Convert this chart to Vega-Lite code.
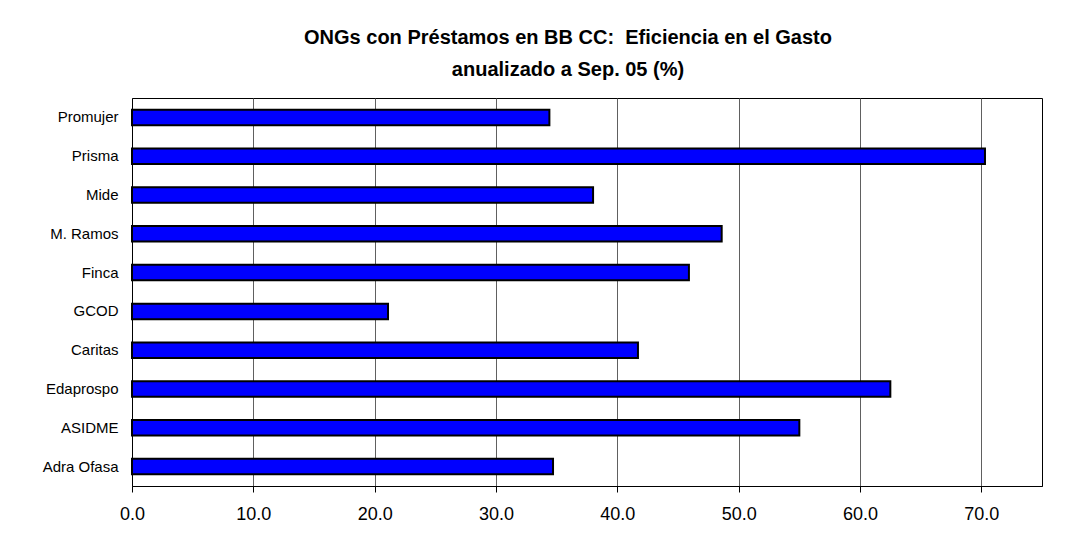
{
  "$schema": "https://vega.github.io/schema/vega-lite/v6.json",
  "autosize": "none",
  "width": 910,
  "height": 388,
  "padding": {"left": 132, "top": 98, "right": 36, "bottom": 53},
  "background": "white",
  "title": {
    "text": ["ONGs con Préstamos en BB CC:\u00a0 Eficiencia en el Gasto", "anualizado a Sep. 05 (%)"],
    "font": "Liberation Sans",
    "fontSize": 20,
    "fontWeight": "bold",
    "color": "black",
    "lineHeight": 32,
    "anchor": "middle",
    "frame": "group",
    "dx": -19,
    "offset": 18
  },
  "data": {
    "values": [
      {"ong": "Promujer", "valor": 34.4},
      {"ong": "Prisma", "valor": 70.3},
      {"ong": "Mide", "valor": 38.0},
      {"ong": "M. Ramos ", "valor": 48.6},
      {"ong": "Finca", "valor": 45.9},
      {"ong": "GCOD", "valor": 21.1},
      {"ong": "Caritas", "valor": 41.7},
      {"ong": "Edaprospo", "valor": 62.5},
      {"ong": "ASIDME", "valor": 55.0},
      {"ong": "Adra Ofasa", "valor": 34.7}
    ]
  },
  "mark": {"type": "bar", "color": "#0000FF", "stroke": "black", "strokeWidth": 2},
  "encoding": {
    "y": {
      "field": "ong",
      "type": "nominal",
      "sort": null,
      "scale": {"paddingInner": 0.6, "paddingOuter": 0.3},
      "axis": {
        "title": null,
        "ticks": false,
        "labelFont": "Liberation Sans",
        "labelFontSize": 15,
        "labelColor": "black",
        "labelPadding": 14,
        "domainColor": "black",
        "domainWidth": 1
      }
    },
    "x": {
      "field": "valor",
      "type": "quantitative",
      "scale": {"domain": [0, 75], "nice": false},
      "axis": {
        "title": null,
        "values": [0, 10, 20, 30, 40, 50, 60, 70],
        "format": ".1f",
        "grid": true,
        "gridColor": "#606060",
        "gridWidth": 1,
        "gridOpacity": 1,
        "tickColor": "black",
        "tickSize": 6,
        "domainColor": "black",
        "labelFont": "Liberation Sans",
        "labelFontSize": 18,
        "labelColor": "black",
        "labelPadding": 13,
        "labelFlush": false
      }
    }
  },
  "config": {
    "view": {"stroke": "black", "strokeWidth": 1}
  }
}
